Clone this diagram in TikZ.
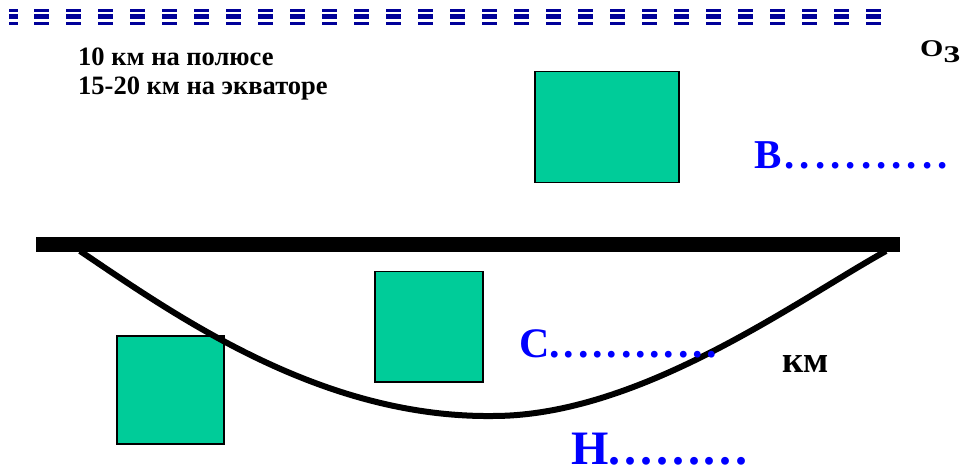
\documentclass[tikz,border=0pt]{standalone}
\usepackage{fontspec}
\setmainfont{Liberation Serif}
\definecolor{boxgreen}{HTML}{00CC99}
\definecolor{dashblue}{HTML}{000099}
\definecolor{labblue}{HTML}{0000FF}
\newlength\dsp
\newcommand\pd{\makebox[\dsp][l]{.}}
\begin{document}
\begin{tikzpicture}[x=1pt,y=-1pt,
  greenbox/.style={draw=black, line width=1.5pt, fill=boxgreen, inner sep=0pt, anchor=north west},
  smalltext/.style={font=\bfseries\fontsize{26.5}{29}\selectfont, inner sep=0pt, anchor=base west},
  bluelabel/.style={text=labblue, inner sep=0pt, anchor=base west},
  dashbar/.style={fill=dashblue}]
\useasboundingbox (0,0) rectangle (961,470);
% top dashed boundary
\foreach \x in {34,66,...,866} {
  \fill[dashbar] (\x,9.5) rectangle ++(15,2.5);
  \fill[dashbar] (\x,14) rectangle ++(15,5.5);
  \fill[dashbar] (\x,22.5) rectangle ++(15,2.5);
}
\fill[dashbar] (9,9.5) rectangle ++(9,2.5);
\fill[dashbar] (9,14) rectangle ++(9,5.5);
\fill[dashbar] (9,22.5) rectangle ++(9,2.5);
% texts
\node[smalltext] (t1) at (78,66) {10 км на полюсе};
\node[smalltext] (t2) at (78,95) {15-20 км на экваторе};
\node[inner sep=0pt, anchor=base west, font=\bfseries\fontsize{24}{26}\selectfont] (o3) at (920,57) {\scalebox{1.25}[1]{O}\raisebox{-6pt}{\scalebox{1.4}[1]{3}}};
% boxes
\node[greenbox, minimum width=144pt, minimum height=111pt] (boxB) at (534,71) {};
\node[greenbox, minimum width=108pt, minimum height=110pt] (boxC) at (374,271) {};
\node[greenbox, minimum width=107pt, minimum height=108pt] (boxH) at (116,335) {};
% curve
\coordinate (cl) at (80,251);
\coordinate (cb) at (493,416);
\coordinate (cr) at (886,251);
\draw[line width=6pt] (cl) .. controls (175,315) and (320,418) .. (cb)
  .. controls (640,416) and (796,301) .. (cr);
% bar
\node[fill=black, inner sep=0pt, anchor=north west, minimum width=864pt, minimum height=15pt] (bar) at (36,237) {};
% labels
\node[bluelabel, font=\bfseries\fontsize{41}{45}\selectfont] (lb) at (754,169) {\setlength\dsp{15.3pt}B\kern3pt\pd\pd\pd\pd\pd\pd\pd\pd\pd\pd.};
\node[bluelabel, font=\bfseries\fontsize{42}{46}\selectfont] (lc) at (519,357) {\setlength\dsp{14.3pt}C\pd\pd\pd\pd\pd\pd\pd\pd\pd\pd\pd.};
\node[bluelabel, font=\bfseries\fontsize{48}{52}\selectfont] (lh) at (571,464) {\setlength\dsp{15.9pt}H\pd\pd\pd\pd\pd\pd\pd\pd.};
\node[inner sep=0pt, anchor=base west, font=\bfseries\fontsize{37}{40}\selectfont] (km) at (782,372) {км};
\end{tikzpicture}
\end{document}
